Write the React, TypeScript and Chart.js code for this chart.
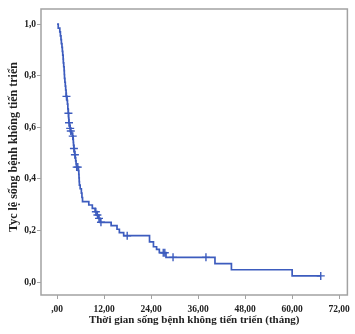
import React, { useEffect, useRef } from 'react';
import Chart from 'chart.js/auto';

// Kaplan-Meier step points (time in months, survival proportion after event)
const eventTimes = [
  0, 0.3, 0.7, 0.85, 1.0, 1.1, 1.25, 1.35, 1.45, 1.55, 1.6, 1.7, 1.8, 1.85, 1.9, 2.0, 2.1, 2.2, 2.3,
  2.55, 2.65, 2.75, 2.85, 2.95, 3.0, 3.2, 3.3, 3.45, 3.7, 3.9, 4.1, 4.15, 4.2, 4.3, 4.4, 4.5,
  4.65, 4.75, 4.85, 4.95, 5.45, 5.55, 5.6, 5.65, 5.7, 5.9, 6.2, 6.35, 6.5,
  8.1, 9.0, 9.7, 10.2, 10.6, 11.0, 13.8, 15.3, 15.9, 17.0, 23.6, 24.6, 25.4, 26.1, 27.8,
  40.3, 44.5, 60.0, 67.3,
];
const eventSurvival = [
  1.0, 0.985, 0.97, 0.955, 0.94, 0.925, 0.91, 0.895, 0.88, 0.865, 0.85, 0.835, 0.82, 0.805, 0.79, 0.775, 0.76, 0.745, 0.72,
  0.705, 0.69, 0.672, 0.655, 0.637, 0.618, 0.607, 0.596, 0.586, 0.576, 0.566, 0.554, 0.542, 0.53, 0.518, 0.506, 0.494,
  0.482, 0.47, 0.458, 0.446, 0.432, 0.418, 0.404, 0.39, 0.376, 0.362, 0.345, 0.328, 0.312,
  0.299, 0.286, 0.273, 0.26, 0.247, 0.232, 0.219, 0.205, 0.192, 0.18, 0.156, 0.137, 0.127, 0.114, 0.096,
  0.072, 0.048, 0.024, 0.024,
];

// Censored observations
const censorTimes = [2.4, 2.9, 3.05, 3.35, 3.5, 4.0, 4.3, 4.55, 5.0, 5.3, 9.9, 10.3, 10.7, 11.2, 17.9, 27.1, 27.5, 29.6, 38.0, 67.3];
const censorSurvival = [0.72, 0.655, 0.618, 0.596, 0.586, 0.566, 0.518, 0.494, 0.446, 0.446, 0.273, 0.26, 0.247, 0.232, 0.18, 0.114, 0.114, 0.096, 0.096, 0.024];

const xTicks = [0, 12, 24, 36, 48, 60, 72];
const xLabels = [',00', '12,00', '24,00', '36,00', '48,00', '60,00', '72,00'];
const yTicks = [0, 0.2, 0.4, 0.6, 0.8, 1.0];
const yLabels = ['0,0', '0,2', '0,4', '0,6', '0,8', '1,0'];

const xTitle = 'Thời gian sống bệnh không tiến triển (tháng)';
const yTitle = 'Tyc lệ sống bệnh không tiến triển';

const LINE_COLOR = '#3d5cbe';
const FRAME_COLOR = '#a2a2a2';
const FONT = "'Liberation Serif', 'Times New Roman', serif";

const framePlugin = {
  id: 'frame',
  beforeDatasetsDraw(chart: any) {
    const { ctx, chartArea } = chart;
    ctx.save();
    ctx.strokeStyle = FRAME_COLOR;
    ctx.lineWidth = 1.5;
    ctx.strokeRect(chartArea.left, chartArea.top, chartArea.right - chartArea.left, chartArea.bottom - chartArea.top);
    ctx.restore();
  },
  afterDraw(chart: any) {
    const { ctx } = chart;
    ctx.save();
    ctx.translate(14, 147);
    ctx.rotate(-Math.PI / 2);
    ctx.font = `bold 12px ${FONT}`;
    ctx.fillStyle = '#222';
    ctx.textAlign = 'center';
    ctx.textBaseline = 'middle';
    ctx.fillText(yTitle, 0, 0);
    ctx.restore();
  },
};

export default function App() {
  const ref = useRef<HTMLCanvasElement>(null);
  useEffect(() => {
    if (!ref.current) return;
    const chart = new Chart(ref.current, {
      type: 'scatter',
      data: {
        datasets: [
          {
            data: eventTimes.map((t, i) => ({ x: t, y: eventSurvival[i] })),
            showLine: true,
            stepped: 'before',
            borderColor: LINE_COLOR,
            borderWidth: 1.7,
            pointRadius: 0,
            fill: false,
          },
          {
            data: censorTimes.map((t, i) => ({ x: t, y: censorSurvival[i] })),
            showLine: false,
            pointStyle: 'cross',
            pointRadius: 4,
            borderColor: LINE_COLOR,
            backgroundColor: LINE_COLOR,
            pointBorderWidth: 1.4,
          },
        ],
      },
      options: {
        responsive: false,
        animation: false,
        layout: { padding: { top: 9, right: 3, left: 0, bottom: 0 } },
        plugins: { legend: { display: false }, tooltip: { enabled: false } },
        scales: {
          x: {
            type: 'linear',
            min: -4.1,
            max: 74.1,
            afterBuildTicks: (s: any) => {
              s.ticks = xTicks.map((v) => ({ value: v }));
            },
            afterFit: (s: any) => {
              s.height = 39;
            },
            grid: { display: true, drawOnChartArea: false, drawTicks: true, tickLength: 4, color: FRAME_COLOR, lineWidth: 1 },
            border: { display: false },
            ticks: {
              padding: 5,
              maxRotation: 0,
              color: '#222',
              font: { family: FONT, size: 9.5, weight: 'bold' },
              callback: (v: any) => xLabels[xTicks.indexOf(Number(v))] ?? '',
            },
            title: {
              display: true,
              text: xTitle,
              color: '#222',
              font: { family: FONT, size: 11, weight: 'bold' },
              padding: { top: 0, bottom: 7 },
            },
          },
          y: {
            type: 'linear',
            min: -0.05,
            max: 1.059,
            afterBuildTicks: (s: any) => {
              s.ticks = yTicks.map((v) => ({ value: v }));
            },
            afterFit: (s: any) => {
              s.width = 41;
            },
            grid: { display: true, drawOnChartArea: false, drawTicks: true, tickLength: 4, color: FRAME_COLOR, lineWidth: 1 },
            border: { display: false },
            ticks: {
              padding: 1,
              color: '#222',
              font: { family: FONT, size: 9.5, weight: 'bold' },
              callback: (v: any) => {
                const i = yTicks.findIndex((t) => Math.abs(t - Number(v)) < 1e-6);
                return i >= 0 ? yLabels[i] : '';
              },
            },
            title: { display: false },
          },
        },
      },
      plugins: [framePlugin],
    } as any);
    return () => chart.destroy();
  }, []);
  return (
    <canvas
      ref={ref}
      width={355}
      height={334}
      style={{ position: 'absolute', left: 0, top: 0, width: 355, height: 334, display: 'block' }}
    />
  );
}
